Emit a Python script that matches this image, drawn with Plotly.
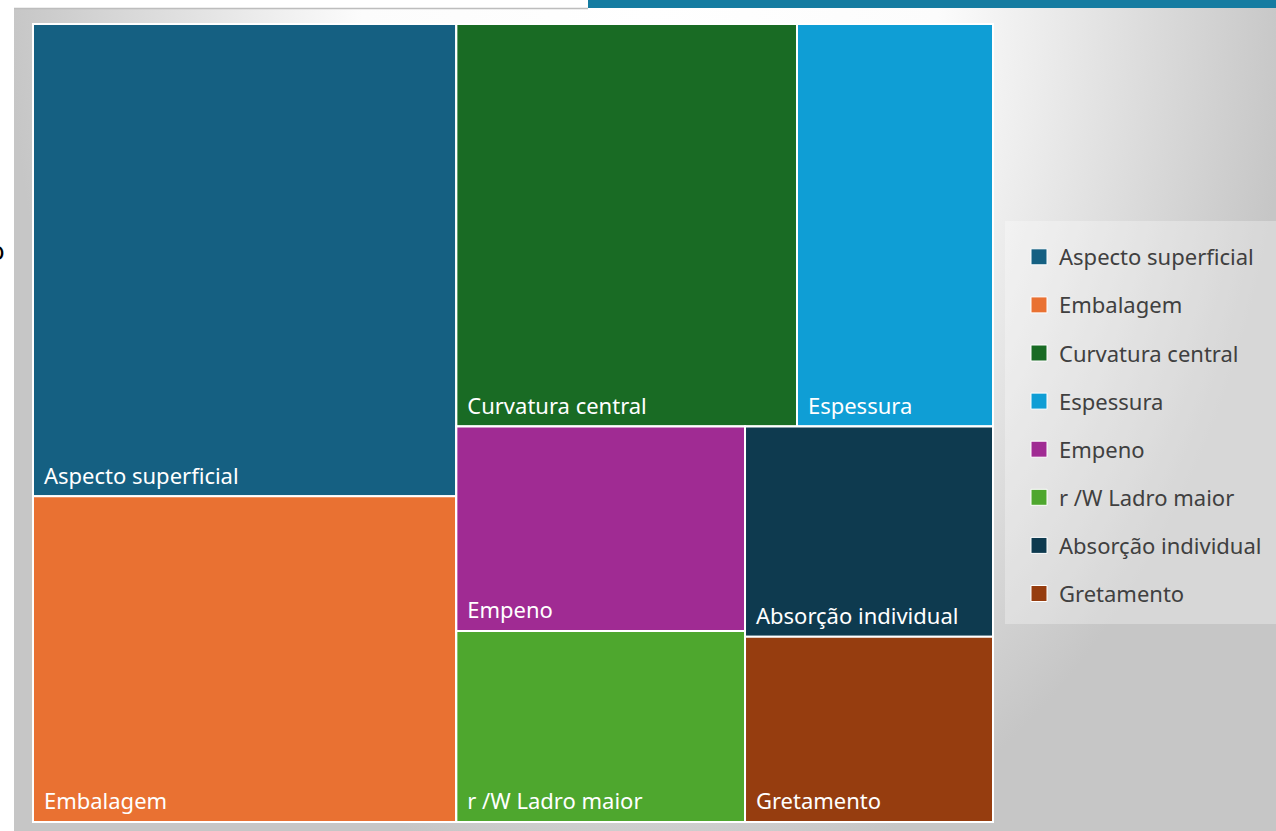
import base64
import plotly.graph_objects as go

W, H = 1276, 831

# ---- data (percent of defects) ----
categories = ["Aspecto superficial", "Embalagem", "Curvatura central", "Espessura",
              "Empeno", "r /W Ladro maior", "Absorção individual", "Gretamento"]
values = [26.1, 18.0, 17.9, 10.3, 7.7, 7.2, 6.8, 6.0]
colors = ["#156082", "#E97132", "#196B24", "#0F9ED5",
          "#A02B93", "#4EA72E", "#0E3A4F", "#963D0F"]
# invisible grouping that reproduces the tiling of the original
group_of = ["c1", "c1", "top", "top", "b1", "b1", "b2", "b2"]
groups = ["c1", "rest", "top", "bot", "b1", "b2"]
group_parent = ["", "", "rest", "rest", "bot", "bot"]


def px(x, y):
    return x / W, 1 - y / H


ids = groups + categories
labels = [""] * len(groups) + categories
parents = group_parent + group_of
vals = [0] * len(groups) + values
node_colors = ["rgba(0,0,0,0)"] * len(groups) + colors
texttpl = [""] * len(groups) + ["\u00a0\u200a%{label}<sub>\u00a0</sub>"] * len(categories)

x0, y1 = px(33, 822)
x1, y0 = px(993, 24)

fig = go.Figure()
fig.add_trace(go.Treemap(
    ids=ids, labels=labels, parents=parents, values=vals,
    branchvalues="remainder", sort=False,
    marker=dict(colors=node_colors, line=dict(color="white", width=2),
                pad=dict(t=0, l=0, r=0, b=0)),
    tiling=dict(packing="slice-dice", pad=0),
    pathbar=dict(visible=False),
    texttemplate=texttpl, textposition="bottom left",
    textfont=dict(family="Noto Sans", size=22, color="white"),
    hoverinfo="label+value",
    domain=dict(x=[x0, x1], y=[y1, y0]),
))

for i, (name, col) in enumerate(zip(categories, colors)):
    fig.add_trace(go.Scatter(
        x=[None], y=[None], mode="markers", name=name, legendgroup=f"g{i}",
        marker=dict(symbol="square", size=16, color=col, line=dict(color="white", width=1)),
        showlegend=True,
    ))

# background gradient panel (decorative)
pw, ph = W - 14, H - 8
svg = (
    f"<svg xmlns='http://www.w3.org/2000/svg' width='{pw}' height='{ph}' viewBox='0 0 {pw} {ph}' preserveAspectRatio='none'>"
    "<defs><radialGradient id='g' gradientUnits='userSpaceOnUse' cx='636' cy='-8' r='640' "
    "gradientTransform='translate(636,-8) scale(1,1.4) translate(-636,8)'>"
    "<stop offset='0' stop-color='#ffffff'/><stop offset='0.45' stop-color='#fcfcfc'/>"
    "<stop offset='1' stop-color='#c6c6c6'/></radialGradient></defs>"
    f"<rect width='{pw}' height='{ph}' fill='url(#g)'/></svg>"
)
src = "data:image/svg+xml;base64," + base64.b64encode(svg.encode()).decode()
ix, iy = px(14, 8)
fig.add_layout_image(dict(source=src, xref="paper", yref="paper", x=ix, y=iy,
                          sizex=pw / W, sizey=ph / H, xanchor="left", yanchor="top",
                          sizing="stretch", layer="below"))

shapes = []
# top blue bar
bx0, by0 = px(588, 0)
bx1, by1 = px(1276, 8)
shapes.append(dict(type="rect", xref="paper", yref="paper", x0=bx0, x1=bx1, y0=by1, y1=by0,
                   fillcolor="#157CA1", line=dict(width=0), layer="below"))
# panel top border
lx0, ly = px(14, 8.5)
lx1, _ = px(588, 8.5)
shapes.append(dict(type="line", xref="paper", yref="paper", x0=lx0, x1=lx1, y0=ly, y1=ly,
                   line=dict(color="#bdbdbd", width=1.5), layer="below"))
# legend box
gx0, gy0 = px(1005, 221)
gx1, gy1 = px(1276, 624)
shapes.append(dict(type="rect", xref="paper", yref="paper", x0=gx0, x1=gx1, y0=gy1, y1=gy0,
                   fillcolor="rgba(255,255,255,0.3)", line=dict(width=0), layer="below"))

lgx, lgy = px(1019, 236)
ax, ay = px(-3, 250)
fig.update_layout(
    width=W, height=H, margin=dict(l=0, r=0, t=0, b=0),
    paper_bgcolor="white", plot_bgcolor="rgba(0,0,0,0)",
    xaxis=dict(visible=False), yaxis=dict(visible=False),
    shapes=shapes,
    legend=dict(x=lgx, y=lgy, xanchor="left", yanchor="top", bgcolor="rgba(0,0,0,0)",
                font=dict(family="Noto Sans", size=22, color="#404040"),
                tracegroupgap=16.5, itemclick=False),
    annotations=[dict(text="o", x=ax, y=ay, xref="paper", yref="paper", showarrow=False,
                      xanchor="center", yanchor="middle",
                      font=dict(family="Noto Sans", size=26, color="black"))],
)

fig.write_html("out.html", config={"displayModeBar": False},
               post_script="document.body.style.margin='0';document.body.style.overflow='hidden';")
